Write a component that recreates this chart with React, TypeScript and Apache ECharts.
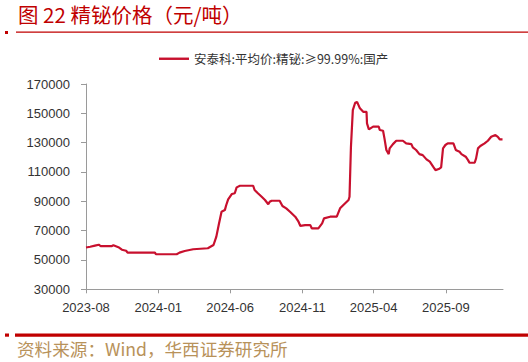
import React, { useEffect, useRef } from "react";
import * as echarts from "echarts";

const titleText = "图 22 精铋价格（元/吨）";
const sourceText = "资料来源：Wind，华西证券研究所";
const seriesName = "安泰科:平均价:精铋:≥99.99%:国产";

const xTickLabels = ["2023-08", "2024-01", "2024-06", "2024-11", "2025-04", "2025-09"];
const yMin = 30000;
const yMax = 170000;
const yStep = 20000;

const dates = [
  "2023-08-01", "2023-08-10", "2023-08-20", "2023-08-28", "2023-09-01", "2023-09-25", "2023-09-28",
  "2023-10-10", "2023-10-16", "2023-10-25", "2023-10-28", "2023-12-25", "2023-12-27", "2024-02-09",
  "2024-02-15", "2024-02-26", "2024-03-15", "2024-04-15", "2024-04-27", "2024-05-03", "2024-05-08",
  "2024-05-14", "2024-05-21", "2024-05-24", "2024-05-28", "2024-06-05", "2024-06-11", "2024-06-15",
  "2024-06-22", "2024-07-20", "2024-07-23", "2024-07-30", "2024-08-07", "2024-08-14", "2024-08-21",
  "2024-08-24", "2024-08-28", "2024-09-14", "2024-09-20", "2024-09-28", "2024-10-06", "2024-10-17",
  "2024-10-24", "2024-10-28", "2024-11-07", "2024-11-18", "2024-11-21", "2024-12-05", "2024-12-13",
  "2024-12-17", "2024-12-30", "2025-01-13", "2025-01-20", "2025-01-27", "2025-02-07", "2025-02-09",
  "2025-02-12", "2025-02-16", "2025-02-21", "2025-02-25", "2025-02-28", "2025-03-03", "2025-03-10",
  "2025-03-17", "2025-03-18", "2025-03-22", "2025-03-31", "2025-04-12", "2025-04-14", "2025-04-21",
  "2025-04-24", "2025-04-28", "2025-05-03", "2025-05-05", "2025-05-12", "2025-05-19", "2025-06-02",
  "2025-06-09", "2025-06-20", "2025-06-23", "2025-06-30", "2025-07-07", "2025-07-14", "2025-07-22",
  "2025-07-29", "2025-08-05", "2025-08-10", "2025-08-17", "2025-08-22", "2025-08-26", "2025-08-31",
  "2025-09-05", "2025-09-17", "2025-09-22", "2025-09-30", "2025-10-04", "2025-10-13", "2025-10-18",
  "2025-10-21", "2025-11-01", "2025-11-04", "2025-11-08", "2025-11-13", "2025-11-22", "2025-11-29",
  "2025-12-06", "2025-12-15", "2025-12-20", "2025-12-24", "2025-12-30",
];

const prices = [
  58500, 59000, 59800, 60400, 59500, 59500, 60000,
  58500, 57000, 56300, 55000, 55000, 53900, 53900,
  55000, 56100, 57300, 58000, 60200, 65900, 73800,
  82900, 84000, 87500, 91300, 95000, 95500, 99500,
  100600, 100600, 97700, 95500, 93100, 90900, 88000,
  89700, 90400, 90400, 86800, 85200, 82900, 79500,
  76100, 73200, 73800, 73800, 71600, 71600, 75000,
  78400, 79500, 79500, 85200, 87500, 90900, 93100,
  127000, 152200, 157200, 157800, 155600, 153400, 151000,
  151000, 143200, 139100, 140900, 140900, 138600, 138100,
  132900, 125000, 122200, 126100, 129000, 131300, 131300,
  129500, 129000, 126800, 125000, 122200, 121500, 118600,
  117000, 113600, 111300, 112000, 113100, 126100, 128400,
  129500, 129500, 125000, 123800, 122200, 120400, 118100,
  116300, 116300, 119300, 126100, 127700, 129500, 131300,
  134000, 135200, 134000, 132300, 132300,
];

const axisStart = "2023-08-01";
const axisEnd = "2025-12-31";

function toTs(s: string): number {
  const p = s.split("-").map(Number);
  return Date.UTC(p[0], p[1] - 1, p[2] || 1);
}

export default function App() {
  const ref = useRef<HTMLDivElement>(null);
  useEffect(() => {
    if (!ref.current) return;
    const chart = echarts.init(ref.current, undefined, { renderer: "svg" });
    const tickTs = xTickLabels.map((l) => toTs(l + "-01"));
    const font = "'Liberation Sans', Arial, sans-serif";
    const cjk = "'Noto Sans CJK SC', sans-serif";
    chart.setOption({
      animation: false,
      backgroundColor: "#ffffff",
      grid: { left: 86, right: 25, top: 84, bottom: 72.7, containLabel: false },
      legend: {
        left: 159,
        top: 52.5,
        padding: 0,
        itemWidth: 30,
        itemHeight: 2.4,
        itemGap: 10,
        textStyle: { fontSize: 12.5, color: "#333333", fontFamily: cjk },
        data: [{ name: seriesName, icon: "rect" }],
      },
      xAxis: {
        type: "value",
        min: toTs(axisStart),
        max: toTs(axisEnd),
        axisLine: { show: true, onZero: false, lineStyle: { color: "#9a9a9a", width: 1 } },
        axisTick: { show: true, customValues: tickTs, length: 4, lineStyle: { color: "#9a9a9a" } },
        axisLabel: {
          customValues: tickTs,
          margin: 12,
          fontSize: 13,
          color: "#333333",
          fontFamily: font,
          formatter: (v: number) => {
            let best = 0;
            for (let i = 0; i < tickTs.length; i++) {
              if (Math.abs(tickTs[i] - v) < Math.abs(tickTs[best] - v)) best = i;
            }
            return xTickLabels[best];
          },
        },
        splitLine: { show: false },
      },
      yAxis: {
        type: "value",
        min: yMin,
        max: yMax,
        interval: yStep,
        axisLine: { show: true, lineStyle: { color: "#9a9a9a", width: 1 } },
        axisTick: { show: true, length: 5, lineStyle: { color: "#9a9a9a" } },
        axisLabel: {
          margin: 16,
          fontSize: 13,
          color: "#333333",
          fontFamily: font,
          formatter: (v: number) => String(v),
        },
        splitLine: { show: false },
      },
      series: [
        {
          name: seriesName,
          type: "line",
          symbol: "none",
          data: dates.map((d, i) => [toTs(d), prices[i]]),
          lineStyle: { color: "#C8102E", width: 2.2 },
          itemStyle: { color: "#C8102E" },
        },
      ],
      graphic: [
        {
          type: "text",
          left: 18,
          top: 4,
          style: { text: titleText, fill: "#C00000", fontSize: 20.5, fontFamily: cjk },
        },
        { type: "rect", shape: { x: 5, y: 31, width: 3, height: 3 }, style: { fill: "#C00000" } },
        { type: "rect", shape: { x: 16, y: 31.5, width: 512, height: 1.2 }, style: { fill: "#C00000" } },
        { type: "rect", shape: { x: 5, y: 333.5, width: 4, height: 3.2 }, style: { fill: "#C00000" } },
        { type: "rect", shape: { x: 15, y: 333.5, width: 513, height: 3.2 }, style: { fill: "#C00000" } },
        {
          type: "text",
          left: 17,
          top: 339.5,
          style: { text: sourceText, fill: "#B8925A", fontSize: 17.6, fontFamily: cjk },
        },
      ],
    });
    return () => chart.dispose();
  }, []);
  return <div ref={ref} style={{ width: 528, height: 362, position: "absolute", left: 0, top: 0 }} />;
}
